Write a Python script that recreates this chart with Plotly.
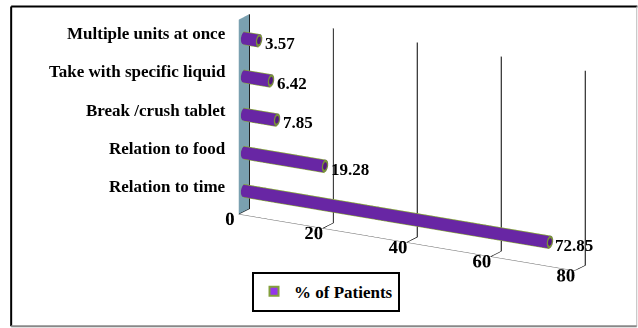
import numpy as np
import plotly.graph_objects as go

# Adherence instruction categories (bottom to top) and share of patients
categories = ["Relation to time", "Relation to food", "Break /crush tablet",
              "Take with specific liquid", "Multiple units at once"]
percent = [72.85, 19.28, 7.85, 6.42, 3.57]
value_ticks = [0, 20, 40, 60, 80]
series_name = "% of Patients"

PURPLE = "#9436ea"
PURPLE_DARK = "#5b1a8c"
GREEN = "#84a03c"
WALL = "rgb(122,160,176)"
FONT = dict(family="Liberation Serif", size=17, color="black", weight="bold")
TICK_FONT = dict(family="Liberation Serif", size=15, color="black", weight="bold")

# scene geometry (orthographic view: overall size follows the aspect ratio)
X_RANGE = [0, 80]
Y_RANGE = [0, 1]
Z_RANGE = [-0.55, 4.55]
SCALE = 1.36
ASPECT = dict(x=2.0 * SCALE, y=0.11 * SCALE, z=1.05 * SCALE)
Y_MID = 0.5
R_DISPLAY = 0.045  # cylinder radius in normalised scene units
ry = R_DISPLAY * (Y_RANGE[1] - Y_RANGE[0]) / ASPECT["y"]
rz = R_DISPLAY * (Z_RANGE[1] - Z_RANGE[0]) / ASPECT["z"]
ry = min(ry, 0.45)

fig = go.Figure()

n_seg = 36
theta = np.linspace(0, 2 * np.pi, n_seg, endpoint=False)


def ring_mesh(xa, xb, zc, r_a, r_b):
    """Triangles joining two rings: a tube when xa != xb, an annulus when xa == xb."""
    xs, ys, zs = [], [], []
    for xv, rr in ((xa, r_a), (xb, r_b)):
        xs += [xv] * n_seg
        ys += list(Y_MID + ry * rr * np.cos(theta))
        zs += list(zc + rz * rr * np.sin(theta))
    i, j, k = [], [], []
    for s in range(n_seg):
        a, b = s, (s + 1) % n_seg
        i += [a, b]
        j += [b, b + n_seg]
        k += [a + n_seg, a + n_seg]
    return xs, ys, zs, i, j, k


for idx, (cat, val) in enumerate(zip(categories, percent)):
    zc = idx
    x, y, z, i, j, k = ring_mesh(0.0, val, zc, 1.0, 1.0)
    fig.add_trace(go.Mesh3d(
        x=x, y=y, z=z, i=i, j=j, k=k, color=PURPLE, flatshading=False,
        lighting=dict(ambient=0.7, diffuse=0.6, specular=0.4, roughness=0.4, fresnel=0.1),
        lightposition=dict(x=0, y=-1000, z=3000),
        hoverinfo="skip", showlegend=False))
    # end caps: green rim with a purple centre
    for xv in (0.0, val):
        x, y, z, i, j, k = ring_mesh(xv, xv, zc, 0.6, 1.0)
        fig.add_trace(go.Mesh3d(x=x, y=y, z=z, i=i, j=j, k=k, color=GREEN,
                                lighting=dict(ambient=0.9, diffuse=0.2),
                                hoverinfo="skip", showlegend=False))
        x, y, z, i, j, k = ring_mesh(xv, xv, zc, 0.0, 0.6)
        fig.add_trace(go.Mesh3d(x=x, y=y, z=z, i=i, j=j, k=k, color=PURPLE_DARK,
                                lighting=dict(ambient=0.9, diffuse=0.2),
                                hoverinfo="skip", showlegend=False))
    # green outline along the top and bottom of each bar
    for sgn in (1, -1):
        fig.add_trace(go.Scatter3d(
            x=[0, val], y=[Y_MID - 0.15 * ry, Y_MID - 0.15 * ry],
            z=[zc + sgn * rz * 1.03] * 2, mode="lines",
            line=dict(color=GREEN, width=2), hoverinfo="skip", showlegend=False))

# legend entry
fig.add_trace(go.Scatter3d(
    x=[None], y=[None], z=[None], mode="markers", name=series_name,
    marker=dict(symbol="square", size=9, color=PURPLE, line=dict(color=GREEN, width=2)),
    showlegend=True))

annotations = []
for idx, (cat, val) in enumerate(zip(categories, percent)):
    annotations.append(dict(x=val, y=Y_MID, z=idx, text=f"{val:.2f}", showarrow=False,
                            xanchor="left", xshift=4, yshift=-3, font=FONT))
    annotations.append(dict(x=0, y=0, z=idx, text=cat, showarrow=False,
                            xanchor="right", xshift=-10, yshift=7, font=FONT))

axis_common = dict(showspikes=False, title=dict(text=""), zeroline=False)
fig.update_layout(
    width=638, height=328,
    margin=dict(l=0, r=0, t=0, b=0),
    paper_bgcolor="white",
    font=FONT,
    scene=dict(
        domain=dict(x=[0.335, 0.955], y=[0.13, 1.0]),
        aspectmode="manual", aspectratio=ASPECT,
        camera=dict(eye=dict(x=0.80, y=-1.39, z=0.49), center=dict(x=0, y=0, z=0),
                    up=dict(x=0, y=0, z=1), projection=dict(type="orthographic")),
        xaxis=dict(range=X_RANGE, tickvals=value_ticks, ticks="", tickangle=0, showgrid=True,
                   gridcolor="black", gridwidth=2, showline=True, linecolor="#666",
                   showbackground=True, backgroundcolor=WALL,
                   tickfont=TICK_FONT, **axis_common),
        yaxis=dict(range=Y_RANGE, showticklabels=False, showgrid=False, ticks="",
                   showline=True, linecolor="#888", showbackground=False, **axis_common),
        zaxis=dict(range=Z_RANGE, showticklabels=False, showgrid=False, ticks="",
                   showline=False, showbackground=False, **axis_common),
        annotations=annotations,
    ),
    legend=dict(orientation="h", x=0.511, xanchor="center", y=0.111, yanchor="middle",
                bordercolor="black", borderwidth=2, font=FONT, bgcolor="white"),
    shapes=[
        dict(type="line", xref="paper", yref="paper", x0=0.0175, x1=0.0175, y0=0.005, y1=0.98,
             line=dict(color="black", width=2)),
        dict(type="line", xref="paper", yref="paper", x0=0.0175, x1=0.999, y0=0.98, y1=0.98,
             line=dict(color="black", width=2)),
        dict(type="line", xref="paper", yref="paper", x0=0.998, x1=0.998, y0=0.005, y1=0.98,
             line=dict(color="#bbbbbb", width=1)),
        dict(type="line", xref="paper", yref="paper", x0=0.0175, x1=0.998, y0=0.005, y1=0.005,
             line=dict(color="#888888", width=2)),
    ],
)

fig.write_html("out.html")
